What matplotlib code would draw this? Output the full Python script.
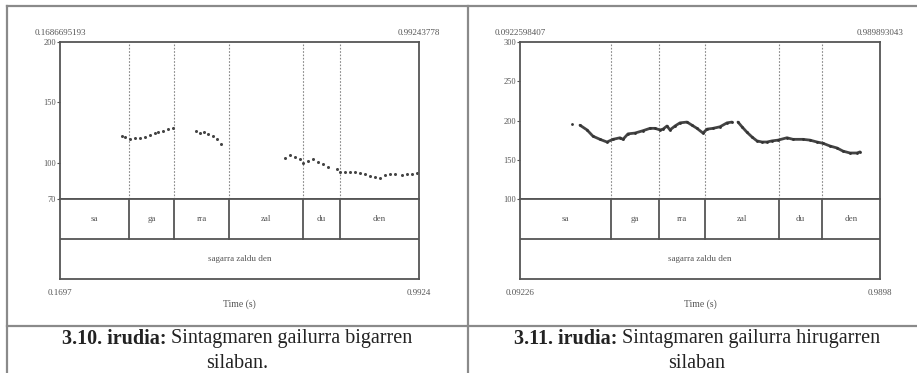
import matplotlib
matplotlib.use("Agg")
import matplotlib.pyplot as plt
import numpy as np

plt.rcParams['font.family'] = ['Liberation Serif', 'DejaVu Serif']

W, H = 917, 373

# ---- datos: figura 3.10 (izquierda) ----
t_left = [0.1697, 0.9924]
top_left = ["0.1686695193", "0.99243778"]
bot_left = ["0.1697", "0.9924"]
f_left = [70, 200]
yt_left = [70, 100, 150, 200]
bnd_left = [0.3278, 0.4310, 0.5570, 0.7266, 0.8115]

l1_t = [0.3111, 0.3187, 0.3301, 0.3416, 0.3530, 0.3645, 0.3759, 0.3874, 0.3943, 0.4057, 0.4172, 0.4287]
l1_f = [122.4, 121.1, 119.7, 120.3, 120.5, 121.6, 123.0, 124.4, 125.3, 126.6, 128.0, 128.5]
l2_t = [0.4814, 0.4905, 0.4997, 0.5095, 0.5196, 0.5288, 0.5380]
l2_f = [126.6, 124.4, 125.7, 123.8, 122.2, 119.4, 115.3]
l3_t = [0.6853, 0.6970, 0.7082, 0.7197, 0.7272, 0.7387, 0.7502, 0.7616, 0.7731, 0.7845,
        0.8038, 0.8114, 0.8228, 0.8343, 0.8457, 0.8572, 0.8687, 0.8801, 0.8916, 0.9030,
        0.9145, 0.9259, 0.9374, 0.9527, 0.9642, 0.9757, 0.9871]
l3_f = [103.7, 106.4, 105.0, 103.1, 100.1, 101.7, 103.1, 100.9, 99.0, 96.7,
        94.6, 92.6, 92.1, 92.6, 92.1, 91.3, 90.5, 89.4, 88.5, 87.7,
        89.9, 90.5, 90.7, 89.9, 90.5, 90.7, 91.3]

# ---- datos: figura 3.11 (derecha) ----
t_right = [0.09226, 0.9898]
top_right = ["0.0922598407", "0.989893043"]
bot_right = ["0.09226", "0.9898"]
f_right = [100, 300]
yt_right = [100, 150, 200, 250, 300]
bnd_right = [0.3191, 0.4388, 0.5535, 0.7380, 0.8451]

r0_t = [0.2219]
r0_f = [195.5]
r1_t = [0.2418, 0.2593, 0.2742, 0.2917, 0.3091, 0.3241, 0.3416, 0.3490, 0.3615, 0.3790,
        0.3989, 0.4163, 0.4288, 0.4413, 0.4488, 0.4587, 0.4662, 0.4787, 0.4911, 0.5086,
        0.5211, 0.5335, 0.5485, 0.5585, 0.5734, 0.5909, 0.6083, 0.6208]
r1_f = [194, 188, 180, 176, 172.6, 176, 178, 176, 183, 184,
        187, 190, 190, 188, 189, 193, 188, 193, 197, 198,
        194, 190, 184, 189, 190, 192, 197, 198]
r2_t = [0.6357, 0.6457, 0.6582, 0.6707, 0.6831, 0.6956, 0.7081, 0.7205, 0.7355, 0.7579,
        0.7729, 0.7978, 0.8152, 0.8327, 0.8476, 0.8651, 0.8826, 0.8975, 0.9150, 0.9324, 0.9399]
r2_f = [198, 192, 185, 179, 174, 172.6, 172.6, 174, 175, 178,
        176, 176, 175, 172.6, 171, 167.5, 165, 161, 158.6, 158.6, 160]

silabak = ["sa", "ga", "rra", "zal", "du", "den"]
esaldia = "sagarra zaldu den"

captions = [("3.10. irudia:", " Sintagmaren gailurra bigarren", "silaban."),
            ("3.11. irudia:", " Sintagmaren gailurra hirugarren", "silaban")]


def caja(x0, y0, x1, y1):
    return [x0 / W, 1 - y1 / H, (x1 - x0) / W, (y1 - y0) / H]


fig = plt.figure(figsize=(W / 100, H / 100), dpi=100)

# fondo con las lineas de la tabla
bg = fig.add_axes([0, 0, 1, 1])
bg.set_xlim(0, W)
bg.set_ylim(H, 0)
bg.axis('off')
gris = '#8a8a8a'
bg.plot([7, W], [6, 6], color=gris, lw=1.6)
bg.plot([7, W], [326, 326], color=gris, lw=1.6)
bg.plot([7, 7], [6, H], color=gris, lw=1.6)
bg.plot([468, 468], [6, H], color=gris, lw=1.6)

tc = '#555555'  # color texto chico


def panel(x0, x1, trange, flim, yticks, bnds, toplbl, botlbl, series, speckle):
    ax = fig.add_axes(caja(x0, 42, x1, 199))
    tr = fig.add_axes(caja(x0, 199, x1, 279))
    for a in (ax, tr):
        a.set_xlim(trange)
        for s in a.spines.values():
            s.set_color('#555555')
            s.set_linewidth(1.3)
    ax.set_ylim(flim)
    ax.set_xticks([])
    ax.set_yticks(yticks)
    ax.set_yticklabels([str(v) for v in yticks], fontsize=6, color=tc)
    ax.tick_params(axis='y', length=2, width=0.8, pad=1, colors=tc)
    for b in bnds:
        ax.axvline(b, color='#888888', lw=0.8, ls=(0, (1.5, 1.5)))
    for tt, ff in series:
        if speckle:
            ax.plot(tt, ff, 'o', ms=2.2, color='#444444', mec='none')
        else:
            ax.plot(tt, ff, '-', lw=2.0, color='#444444', solid_capstyle='round')
            ax.plot(tt, ff, 'o', ms=2.0, color='#333333', mec='none')
    ax.text(0, 1.03, toplbl[0], transform=ax.transAxes, ha='center', va='bottom',
            fontsize=6.5, color=tc)
    ax.text(1, 1.03, toplbl[1], transform=ax.transAxes, ha='center', va='bottom',
            fontsize=6.5, color=tc)

    tr.set_ylim(0, 2)
    tr.set_xticks([])
    tr.set_yticks([])
    tr.axhline(1, color='#555555', lw=1.3)
    edges = [trange[0]] + bnds + [trange[1]]
    for b in bnds:
        tr.plot([b, b], [1, 2], color='#555555', lw=1.3)
    for i, s in enumerate(silabak):
        tr.text((edges[i] + edges[i + 1]) / 2, 1.5, s, ha='center', va='center',
                fontsize=6.5, color=tc)
    tr.text(np.mean(trange), 0.5, esaldia, ha='center', va='center', fontsize=6.5,
            color=tc)
    tr.text(0, -0.12, botlbl[0], transform=tr.transAxes, ha='center', va='top',
            fontsize=6.5, color=tc)
    tr.text(1, -0.12, botlbl[1], transform=tr.transAxes, ha='center', va='top',
            fontsize=6.5, color=tc)
    tr.text(0.5, -0.26, "Time (s)", transform=tr.transAxes, ha='center', va='top',
            fontsize=7, color=tc)


panel(60, 419, t_left, f_left, yt_left, bnd_left, top_left, bot_left,
      [(l1_t, l1_f), (l2_t, l2_f), (l3_t, l3_f)], True)
panel(520, 880, t_right, f_right, yt_right, bnd_right, top_right, bot_right,
      [(r0_t, r0_f), (r1_t, r1_f), (r2_t, r2_f)], False)

# pies de figura
for cx, (b, r, l2) in zip([237, 697], captions):
    tb = bg.text(0, 0, b, fontsize=14.5, fontweight='bold', color='#222222')
    tn = bg.text(0, 0, r, fontsize=14.5, color='#222222')
    fig.canvas.draw()
    rend = fig.canvas.get_renderer()
    wb = tb.get_window_extent(rend).width
    wn = tn.get_window_extent(rend).width
    x0 = cx - (wb + wn) / 2
    tb.set_position((x0, 339))
    tb.set_va('center')
    tn.set_position((x0 + wb, 339))
    tn.set_va('center')
    bg.text(cx, 363, l2, fontsize=14.5, ha='center', va='center', color='#222222')

fig.savefig("out.png", dpi=100)
